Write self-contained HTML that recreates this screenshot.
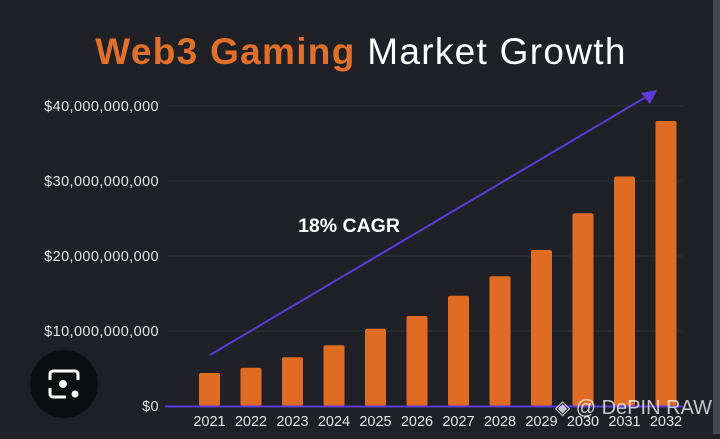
<!DOCTYPE html>
<html><head><meta charset="utf-8"><style>
body{margin:0;width:720px;height:434px;background:#1f2126;overflow:hidden;font-family:"Liberation Sans","DejaVu Sans",sans-serif}
</style></head><body>
<svg id="chart" width="720" height="434" xmlns="http://www.w3.org/2000/svg">
<rect x="0" y="0" width="720" height="434" fill="#1f2126"/>
<rect x="713" y="0" width="7" height="434" fill="#45484d"/>
<text x="361" y="64" text-anchor="middle" font-size="37" letter-spacing="1.3"><tspan fill="#e2702a" font-weight="bold">Web3 Gaming</tspan><tspan fill="#ffffff"> Market Growth</tspan></text>
<g id="grid"></g>
<g id="bars"></g>
<g id="xlabels"></g>
<line x1="210" y1="355" x2="646" y2="97" stroke="#5b3bd9" stroke-width="2"/>
<polygon points="657,90 641,93 650,104" fill="#5b3bd9"/>
<text x="349" y="232" text-anchor="middle" fill="#ffffff" font-size="19.5" font-weight="bold">18% CAGR</text>
<circle cx="64" cy="384" r="34" fill="#0d0e10"/>
<g fill="none" stroke="#fff" stroke-width="3"><path d="M50,380 v-6 a3,3 0 0 1 3,-3 h22 a3,3 0 0 1 3,3 v6 M50,388 v6 a3,3 0 0 0 3,3 h13"/></g>
<circle cx="63" cy="384" r="4" fill="#fff"/>
<circle cx="75" cy="394" r="3.5" fill="#fff"/>
<text x="712" y="414" text-anchor="end" fill="rgba(255,255,255,0.75)" font-size="20">◈ @ DePIN RAW</text>
</svg>
<script>
const years=["2021","2022","2023","2024","2025","2026","2027","2028","2029","2030","2031","2032"];
const values=[4.4,5.1,6.5,8.1,10.3,12.0,14.7,17.3,20.8,25.7,30.6,38.0];
const yTicks=[0,10,20,30,40];
const yTickLabels=["$0","$10,000,000,000","$20,000,000,000","$30,000,000,000","$40,000,000,000"];
const NS="http://www.w3.org/2000/svg";
const y0=406,pxPer=7.5,x0=209.5,step=41.5,bw=21;
const yS=v=>y0-v*pxPer, xS=i=>x0+i*step;
const grid=document.getElementById('grid'),bars=document.getElementById('bars'),xl=document.getElementById('xlabels');
yTicks.forEach((t,i)=>{
 if(t>0){const l=document.createElementNS(NS,'line');
 l.setAttribute('x1',168);l.setAttribute('x2',683);l.setAttribute('y1',yS(t));l.setAttribute('y2',yS(t));
 l.setAttribute('stroke','#2b2e33');l.setAttribute('stroke-width',1);
 
 
 grid.appendChild(l);}
 const tx=document.createElementNS(NS,'text');
 tx.setAttribute('x',159);tx.setAttribute('y',yS(t)+5);tx.setAttribute('text-anchor','end');
 tx.setAttribute('fill','#e6e6e6');tx.setAttribute('font-size','14.5');tx.setAttribute('letter-spacing','0.4');tx.textContent=yTickLabels[i];
 
 
 grid.appendChild(tx);
});
values.forEach((v,i)=>{
 const r=document.createElementNS(NS,'rect');
 r.setAttribute('x',xS(i)-bw/2);r.setAttribute('y',yS(v));r.setAttribute('width',bw);r.setAttribute('height',v*pxPer);
 r.setAttribute('rx',2);r.setAttribute('fill','#e06c24');
 
 
 bars.appendChild(r);
 const t=document.createElementNS(NS,'text');
 t.setAttribute('x',xS(i));t.setAttribute('y',426);t.setAttribute('text-anchor','middle');
 t.setAttribute('fill','#e6e6e6');t.setAttribute('font-size','14.5');t.textContent=years[i];
 
 
 xl.appendChild(t);
});
const ax=document.createElementNS(NS,'line');
ax.setAttribute('x1',165);ax.setAttribute('x2',683);ax.setAttribute('y1',y0+0.5);ax.setAttribute('y2',y0+0.5);
ax.setAttribute('stroke','#5b3bd9');ax.setAttribute('stroke-width',2);


bars.appendChild(ax);
</script>
</body></html>
